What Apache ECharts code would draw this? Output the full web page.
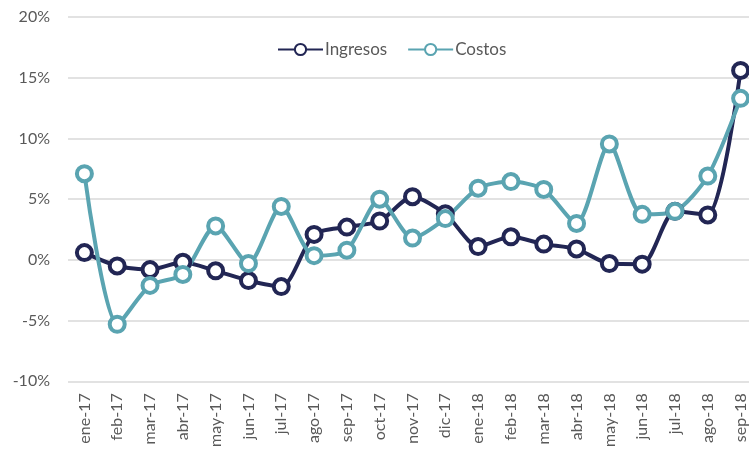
<!DOCTYPE html>
<html><head><meta charset="utf-8">
<script src="https://cdn.jsdelivr.net/npm/echarts@6/dist/echarts.min.js"></script>
<style>html,body{margin:0;padding:0;background:#fff;overflow:hidden}#c{width:757px;height:450px}</style>
</head><body><div id="c"></div>
<script>
const categories = ['ene-17','feb-17','mar-17','abr-17','may-17','jun-17','jul-17','ago-17','sep-17','oct-17','nov-17','dic-17','ene-18','feb-18','mar-18','abr-18','may-18','jun-18','jul-18','ago-18','sep-18'];
const ingresos = [0.6,-0.5,-0.8,-0.2,-0.9,-1.7,-2.2,2.1,2.7,3.2,5.2,3.8,1.1,1.9,1.3,0.9,-0.3,-0.35,4.0,3.7,15.6];
const costos = [7.1,-5.3,-2.1,-1.2,2.8,-0.3,4.4,0.35,0.8,5.0,1.8,3.4,5.9,6.45,5.8,3.0,9.55,3.75,4.0,6.9,13.3];
const yTicks = {min:-10, max:20, interval:5};
const chart = echarts.init(document.getElementById('c'));
const font = 'Lato, Open Sans, sans-serif';
function series(name, data, color){
  return {name, type:'line', data, smooth:0.25, symbol:'circle', symbolSize:15,
    lineStyle:{color, width:4}, itemStyle:{color:'#fff', borderColor:color, borderWidth:4},
    emphasis:{disabled:true}};
}
chart.setOption({
  animation:false,
  legend:{top:36, left:272, itemWidth:45, itemHeight:14, itemGap:20,
    textStyle:{color:'#595959', fontSize:17, fontFamily:font, padding:[0,0,0,-3]},
    data:['Ingresos','Costos']},
  grid:{left:68, right:0, top:17, bottom:68},
  xAxis:{type:'category', data:categories, boundaryGap:true,
    axisLine:{show:false}, axisTick:{show:false},
    axisLabel:{rotate:90, color:'#595959', fontSize:16, fontFamily:font, margin:12, interval:0}},
  yAxis:{type:'value', min:yTicks.min, max:yTicks.max, interval:yTicks.interval,
    axisLabel:{formatter:v=>v+'%', color:'#595959', fontSize:16, fontFamily:font, margin:18},
    splitLine:{lineStyle:{color:'#d9d9d9', width:1.5}},
    axisLine:{show:false}, axisTick:{show:false}},
  series:[series('Ingresos', ingresos, '#222654'), series('Costos', costos, '#5aa4b1')]
});
</script></body></html>
